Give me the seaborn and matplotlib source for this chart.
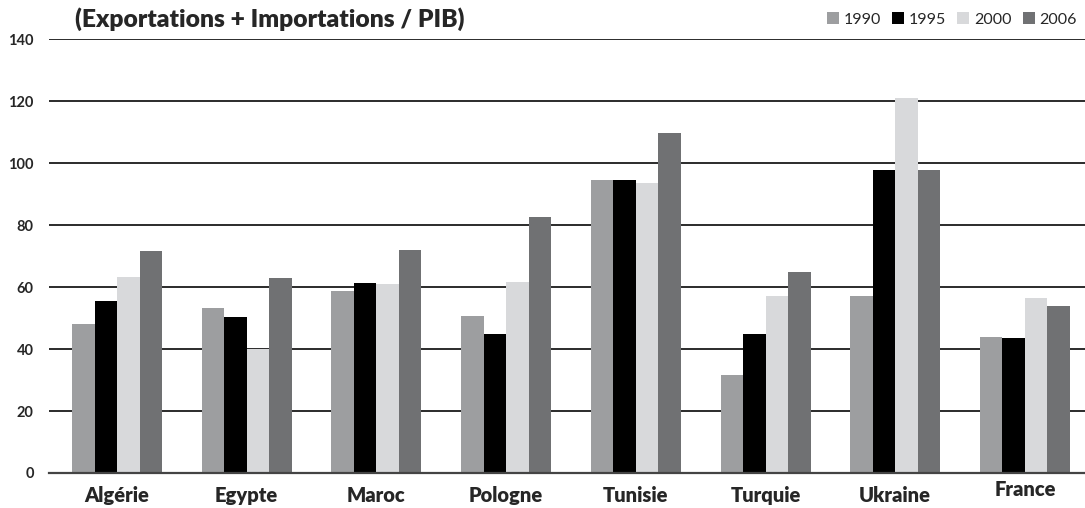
import pandas as pd
import seaborn as sns
import matplotlib.pyplot as plt
from matplotlib.patches import Patch

# ---- data ----
pays = ["Algérie", "Egypte", "Maroc", "Pologne", "Tunisie", "Turquie", "Ukraine", "France"]
annees = ["1990", "1995", "2000", "2006"]
v1990 = [48.1, 53.2, 58.7, 50.6, 94.5, 31.6, 57.0, 43.9]
v1995 = [55.5, 50.4, 61.3, 44.8, 94.5, 44.8, 97.7, 43.5]
v2000 = [63.2, 39.9, 61.0, 61.6, 93.5, 57.0, 121.0, 56.5]
v2006 = [71.6, 62.9, 71.9, 82.6, 109.7, 64.8, 97.7, 53.9]
couleurs = ["#9d9ea0", "#000000", "#d8d9db", "#707173"]

rows = []
for annee, vals in zip(annees, [v1990, v1995, v2000, v2006]):
    for p, v in zip(pays, vals):
        rows.append([p, annee, v])
df = pd.DataFrame(rows, columns=["pays", "annee", "valeur"])

sns.set_style("white")
plt.rcParams["font.family"] = ["Lato", "DejaVu Sans"]

fig = plt.figure(figsize=(10.85, 5.08), dpi=100)
ax = fig.add_axes([0.0452, 0.0689, 0.9548, 0.8543])

sns.barplot(data=df, x="pays", y="valeur", hue="annee", hue_order=annees,
            palette=couleurs, width=0.694, saturation=1, linewidth=0,
            ax=ax, legend=False)

ax.set_ylim(0, 140)
ax.set_xlim(-0.524, 7.463)
ax.set_yticks(range(0, 141, 20))
ax.set_axisbelow(True)
ax.yaxis.grid(True, color="#1a1a1a", linewidth=1.3)
ax.tick_params(axis="y", length=0, pad=11, labelsize=10.5)
for lab in ax.get_yticklabels():
    lab.set_fontweight("bold")
ax.set_xlabel("")
ax.set_ylabel("")
for s in ["top", "right", "left"]:
    ax.spines[s].set_visible(False)
ax.spines["bottom"].set_color("#444444")
ax.spines["bottom"].set_linewidth(1.6)

# category labels (France sits a little higher in the original)
ax.set_xticks(range(len(pays)))
ax.set_xticklabels([])
ax.tick_params(axis="x", length=0)
for i, p in enumerate(pays):
    dy = 0.015 if p == "France" else 0.030
    ax.text(i, -dy, p, transform=ax.get_xaxis_transform(), ha="center", va="top",
            fontsize=14.5, fontweight="heavy")

fig.text(0.069, 0.962, "(Exportations + Importations / PIB)", fontsize=17.7,
         fontweight="heavy", ha="left", va="center")

handles = [Patch(facecolor=c, edgecolor="none") for c in couleurs]
fig.legend(handles, annees, loc="center right", bbox_to_anchor=(1.0, 0.962),
           ncol=4, frameon=False, fontsize=11.5, handlelength=0.75, handleheight=0.75,
           handletextpad=0.3, columnspacing=0.7, borderaxespad=0.1)

fig.savefig("out.png", dpi=100)
